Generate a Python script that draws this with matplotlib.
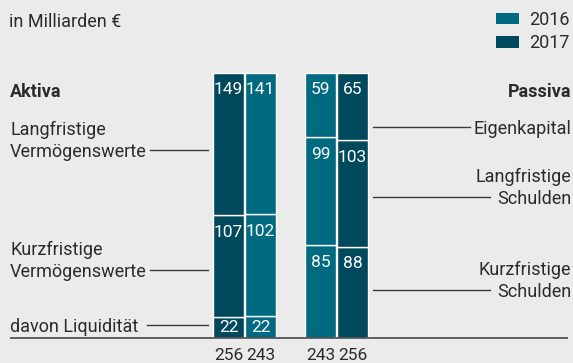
import matplotlib
matplotlib.use("Agg")
import matplotlib.pyplot as plt
from matplotlib.patches import Patch

plt.rcParams['font.family'] = ['Roboto', 'DejaVu Sans']

# Bilanzstruktur in Milliarden Euro
years = ["2016", "2017"]
aktiva_labels = ["davon Liquidität", "Kurzfristige\nVermögenswerte", "Langfristige\nVermögenswerte"]
aktiva_2016 = [22, 102, 141]
aktiva_2017 = [22, 107, 149]
aktiva_total = {"2016": 243, "2017": 256}

passiva_labels = ["Kurzfristige\nSchulden", "Langfristige\nSchulden", "Eigenkapital"]
passiva_2016 = [85, 99, 59]
passiva_2017 = [88, 103, 65]
passiva_total = {"2016": 243, "2017": 256}

c2016 = "#006a80"
c2017 = "#00485c"
bg = "#ebebeb"
txt = "#2b2b2b"

W, H = 573, 363
BASE, TOP = 338, 73          # pixel rows of the bar baseline and bar top
SPAN = BASE - TOP


def py(ypx):
    # pixel row -> bar fraction coordinate
    return (BASE - ypx) / SPAN


fig = plt.figure(figsize=(W / 100, H / 100), dpi=100, facecolor=bg)
ax = fig.add_axes([0, 0, 1, 1])
ax.set_facecolor(bg)
ax.set_xlim(0, W)
ax.set_ylim(py(H), py(0))
ax.axis("off")

bar_w = 31
bars = [
    (228.5, aktiva_2017, c2017, aktiva_total["2017"]),
    (260.5, aktiva_2016, c2016, aktiva_total["2016"]),
    (320.5, passiva_2016, c2016, passiva_total["2016"]),
    (352.5, passiva_2017, c2017, passiva_total["2017"]),
]

for x, vals, col, total in bars:
    s = sum(vals)
    bottom = 0
    for v in vals:
        h = v / s
        ax.bar(x, h, bottom=bottom, width=bar_w, color=col,
               edgecolor="white", linewidth=1.0)
        top = bottom + h
        seg_px = h * SPAN
        off = -17 if seg_px > 30 else -seg_px / 2
        ax.annotate(str(v), (x, top), xytext=(0, off), textcoords="offset pixels",
                    ha="center", va="center", color="white", fontsize=12.5)
        bottom = top
    ax.text(x, py(356), str(total), ha="center", va="center",
            color=txt, fontsize=12.5)

# baseline
ax.plot([10, 568], [0, 0], color="#555555", lw=1.3, solid_capstyle="butt")

# left labels with leader lines
left = [
    ("Langfristige\nVermögenswerte", 150, 150),
    ("Kurzfristige\nVermögenswerte", 270, 150),
    ("davon Liquidität", 325, 147),
]
for label, ypx, x0 in left:
    ax.plot([x0, 208], [py(ypx), py(ypx)], color="#3a3a3a", lw=1.0)
    ax.text(10, py(ypx + 7), label, ha="left", va="baseline",
            color=txt, fontsize=13, linespacing=1.3)

# right labels with leader lines
right = [
    ("Eigenkapital", 127, 470),
    ("Langfristige\nSchulden", 197, 490),
    ("Kurzfristige\nSchulden", 290, 490),
]
for label, ypx, x1 in right:
    ax.plot([373, x1], [py(ypx), py(ypx)], color="#3a3a3a", lw=1.0)
    ax.text(571, py(ypx + 7), label, ha="right", va="baseline",
            color=txt, fontsize=13, linespacing=1.3, multialignment="right")

ax.text(10, py(97), "Aktiva", ha="left", va="baseline", color=txt,
        fontsize=13, fontweight="bold")
ax.text(571, py(97), "Passiva", ha="right", va="baseline", color=txt,
        fontsize=13, fontweight="bold")
ax.text(9, py(27), "in Milliarden €", ha="left", va="baseline", color=txt,
        fontsize=13)

handles = [Patch(facecolor=c2016, label=years[0]),
           Patch(facecolor=c2017, label=years[1])]
ax.legend(handles=handles, loc="upper right",
          bbox_to_anchor=(570 / W, 1 - 11 / H),
          bbox_transform=fig.transFigure, frameon=False, fontsize=13,
          handlelength=1.28, handleheight=0.6, handletextpad=0.6,
          labelspacing=0.3, borderpad=0, borderaxespad=0, labelcolor=txt)

fig.savefig("out.png", dpi=100, facecolor=bg)
